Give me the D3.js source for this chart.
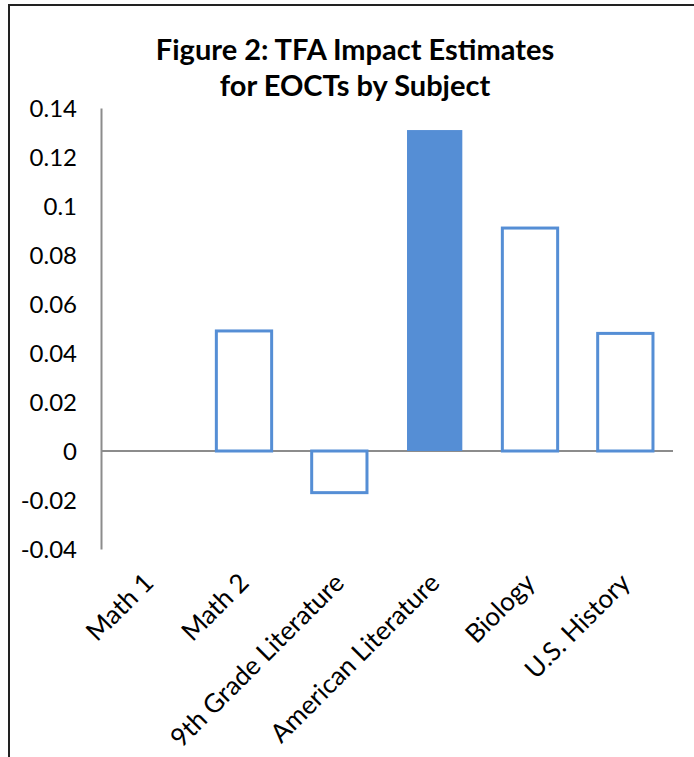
<!DOCTYPE html>
<html>
<head>
<meta charset="utf-8">
<script src="https://cdn.jsdelivr.net/npm/d3@7"></script>
<style>
  body { margin: 0; background: #fff; }
  svg text { font-family: Lato, "Open Sans", sans-serif; fill: #000; }
</style>
</head>
<body>
<svg id="chart" width="694" height="757"></svg>
<script>
// values
var subjects = ["Math 1", "Math 2", "9th Grade Literature", "American Literature", "Biology", "U.S. History"];
var impacts = [0, 0.049, -0.017, 0.131, 0.091, 0.048];
var highlighted = [false, false, false, true, false, false];
var yTicks = [-0.04, -0.02, 0, 0.02, 0.04, 0.06, 0.08, 0.1, 0.12, 0.14];
var titleLines = ["Figure 2: TFA Impact Estimates", "for EOCTs by Subject"];

var blue = "#558ed5";
var svg = d3.select("#chart");

// frame (right and bottom edges are cut off in the original)
svg.append("path")
  .attr("d", "M9,757V5H694")
  .attr("fill", "none")
  .attr("stroke", "#222")
  .attr("stroke-width", 2);

var x = d3.scaleBand()
  .domain(subjects)
  .range([101, 673])
  .paddingInner(0.42)
  .paddingOuter(0.21);

var y = d3.scaleLinear()
  .domain([-0.04, 0.14])
  .range([549, 108]);

// title
svg.append("g").selectAll("text")
  .data(titleLines)
  .enter().append("text")
  .attr("x", 355)
  .attr("y", function(d, i) { return 60 + i * 36; })
  .attr("text-anchor", "middle")
  .style("font-size", "29px")
  .style("font-weight", "bold")
  .text(function(d) { return d; });

// y axis (plain hyphen for negatives, like the original)
var yAxis = svg.append("g")
  .attr("transform", "translate(101,0)")
  .call(d3.axisLeft(y).tickValues(yTicks).tickSize(0).tickPadding(24)
    .tickFormat(function(d) { return String(+d.toFixed(2)); }));
yAxis.select(".domain").attr("stroke", "#8c8c8c").attr("stroke-width", 2);
yAxis.selectAll("text").style("font-size", "24px").attr("dy", "0.35em");

// zero line
svg.append("line")
  .attr("x1", 101).attr("x2", 673)
  .attr("y1", y(0)).attr("y2", y(0))
  .attr("stroke", "#8c8c8c")
  .attr("stroke-width", 2);

// bars
svg.append("g").selectAll("rect")
  .data(subjects.filter(function(d, i) { return impacts[i] !== 0; }))
  .enter().append("rect")
  .attr("x", function(d) { return x(d); })
  .attr("width", x.bandwidth())
  .attr("y", function(d) { var v = impacts[subjects.indexOf(d)]; return y(Math.max(0, v)); })
  .attr("height", function(d) { var v = impacts[subjects.indexOf(d)]; return Math.abs(y(v) - y(0)); })
  .attr("fill", function(d) { return highlighted[subjects.indexOf(d)] ? blue : "#fff"; })
  .attr("stroke", blue)
  .attr("stroke-width", function(d) { return highlighted[subjects.indexOf(d)] ? 0 : 3; });

// category labels
svg.append("g").selectAll("text")
  .data(subjects)
  .enter().append("text")
  .attr("transform", function(d) { return "translate(" + (x(d) + x.bandwidth() / 2) + ",578) rotate(-45)"; })
  .attr("text-anchor", "end")
  .attr("dy", "0.35em")
  .style("font-size", "26px")
  .text(function(d) { return d; });
</script>
</body>
</html>
